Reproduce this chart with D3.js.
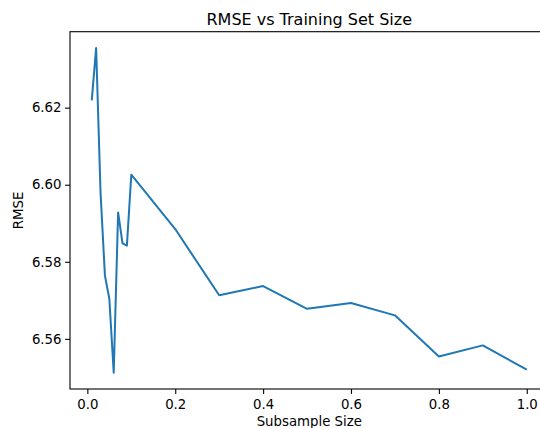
<!DOCTYPE html>
<html>
<head>
<meta charset="utf-8">
<script src="https://cdn.jsdelivr.net/npm/d3@7"></script>
<style>
  html, body { margin: 0; padding: 0; background: #fff; overflow: hidden; }
  svg { display: block; font-family: "DejaVu Sans", sans-serif; }
</style>
</head>
<body>
<svg id="chart" width="540" height="428"></svg>
<script>
// Subsample fractions and the RMSE measured at each
const subsampleSizes = [0.01, 0.02, 0.03, 0.04, 0.05, 0.06, 0.07, 0.08, 0.09, 0.1,
                        0.2, 0.3, 0.4, 0.5, 0.6, 0.7, 0.8, 0.9, 1.0];
const rmseValues = [6.6219, 6.6355, 6.5980, 6.5764, 6.5704, 6.5512, 6.5928, 6.5848, 6.5842, 6.6026,
                    6.5885, 6.5713, 6.5737, 6.5678, 6.5693, 6.5661, 6.5554, 6.5583, 6.5520];

const xTicks = [0.0, 0.2, 0.4, 0.6, 0.8, 1.0];
const yTicks = [6.56, 6.58, 6.60, 6.62];

const titleText = "RMSE vs Training Set Size";
const xLabel = "Subsample Size";
const yLabel = "RMSE";

const svg = d3.select("#chart");
const plot = { left: 70, right: 548.5, top: 31.7, bottom: 389 };

// 5% padding around the data extent on both axes
function padded(ext) {
  const m = (ext[1] - ext[0]) * 0.05;
  return [ext[0] - m, ext[1] + m];
}

const x = d3.scaleLinear().domain(padded(d3.extent(subsampleSizes))).range([plot.left, plot.right]);
const y = d3.scaleLinear().domain(padded(d3.extent(rmseValues))).range([plot.bottom, plot.top]);

const points = subsampleSizes.map((s, i) => ({ s, r: rmseValues[i] }));

// Line
svg.append("path")
  .datum(points)
  .attr("fill", "none")
  .attr("stroke", "#1f77b4")
  .attr("stroke-width", 2)
  .attr("stroke-linejoin", "round")
  .attr("stroke-linecap", "butt")
  .attr("d", d3.line().x(d => x(d.s)).y(d => y(d.r)));

// Axes
const xAxis = d3.axisBottom(x)
  .tickValues(xTicks)
  .tickFormat(d3.format(".1f"))
  .tickSize(4.9)
  .tickSizeOuter(0)
  .tickPadding(5.5);

const yAxis = d3.axisLeft(y)
  .tickValues(yTicks)
  .tickFormat(d3.format(".2f"))
  .tickSize(4.9)
  .tickSizeOuter(0)
  .tickPadding(3.6);

const gx = svg.append("g")
  .attr("transform", `translate(0,${plot.bottom})`)
  .call(xAxis);

const gy = svg.append("g")
  .attr("transform", `translate(${plot.left},0)`)
  .call(yAxis);

[gx, gy].forEach(g => {
  g.select(".domain").remove();
  g.selectAll(".tick line").attr("stroke", "#000").attr("stroke-width", 1.1);
  g.selectAll(".tick text")
    .attr("fill", "#000")
    .style("font-family", "'DejaVu Sans', sans-serif")
    .style("font-size", "13.3px");
});

// Frame around the plotting area
svg.append("rect")
  .attr("x", plot.left)
  .attr("y", plot.top)
  .attr("width", plot.right - plot.left)
  .attr("height", plot.bottom - plot.top)
  .attr("fill", "none")
  .attr("stroke", "#000")
  .attr("stroke-width", 1.1);

// Title
svg.append("text")
  .attr("x", (plot.left + plot.right) / 2)
  .attr("y", 24.5)
  .attr("text-anchor", "middle")
  .style("font-size", "16px")
  .attr("fill", "#000")
  .text(titleText);

// Axis labels
svg.append("text")
  .attr("x", (plot.left + plot.right) / 2)
  .attr("y", 426)
  .attr("text-anchor", "middle")
  .style("font-size", "13.3px")
  .attr("fill", "#000")
  .text(xLabel);

svg.append("text")
  .attr("transform", `translate(23,${(plot.top + plot.bottom) / 2}) rotate(-90)`)
  .attr("text-anchor", "middle")
  .style("font-size", "13.3px")
  .attr("fill", "#000")
  .text(yLabel);
</script>
</body>
</html>
